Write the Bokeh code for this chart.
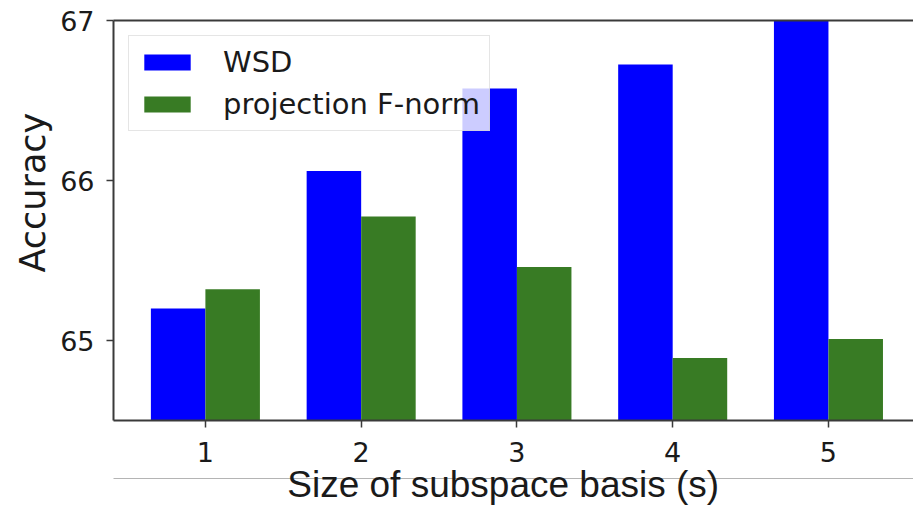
from bokeh.plotting import figure
from bokeh.models import (ColumnDataSource, Range1d, FixedTicker, LinearAxis,
                          Legend, LegendItem, Title)
from bokeh.transform import dodge
from bokeh.embed import file_html
from bokeh.resources import INLINE

# ---- data ----
sizes = [1, 2, 3, 4, 5]
wsd = [65.20, 66.06, 66.575, 66.725, 67.05]
proj_fnorm = [65.32, 65.775, 65.46, 64.89, 65.01]
y_ticks = [65, 66, 67]
series_names = ["WSD", "projection F-norm"]
x_title = "Size of subspace basis (s)"
y_title = "Accuracy"

src = ColumnDataSource(dict(s=sizes, wsd=wsd, proj=proj_fnorm))

p = figure(width=913, height=508, output_backend="svg", toolbar_location=None,
           x_range=Range1d(0.41, 5.546), y_range=Range1d(64.5, 67.0),
           min_border_left=113, min_border_top=20, min_border_right=0,
           min_border_bottom=88)
p.outline_line_color = None
p.grid.visible = False
p.background_fill_color = "white"

BAR_W = 0.35
r1 = p.vbar(x=dodge("s", -BAR_W / 2, range=p.x_range), width=BAR_W, top="wsd", bottom=0,
            source=src, fill_color="#0000ff", line_color=None)
r2 = p.vbar(x=dodge("s", BAR_W / 2, range=p.x_range), width=BAR_W, top="proj", bottom=0,
            source=src, fill_color="#387b24", line_color=None)

AX = "#3a3a3a"
for ax in (p.xaxis[0], p.yaxis[0]):
    ax.axis_line_color = AX
    ax.axis_line_width = 2
    ax.major_tick_line_color = AX
    ax.major_tick_line_width = 1.5
    ax.major_tick_out = 7
    ax.major_tick_in = 0
    ax.minor_tick_line_color = None
    ax.major_label_text_font = "DejaVu Sans"
    ax.major_label_text_font_size = "27px"
    ax.major_label_text_color = "#1a1a1a"

p.xaxis.ticker = FixedTicker(ticks=sizes)
p.yaxis.ticker = FixedTicker(ticks=y_ticks)
p.xaxis.major_label_standoff = 14
p.yaxis.major_label_standoff = 12


def bare_axis(line_color, line_width, tick_out, ticks=()):
    ax = LinearAxis(ticker=FixedTicker(ticks=list(ticks)), major_tick_out=tick_out,
                    major_tick_in=0, minor_tick_out=0, minor_tick_in=0,
                    major_tick_line_color=None, axis_line_color=line_color,
                    axis_line_width=line_width, major_label_text_font_size="0px",
                    major_label_standoff=0)
    if ticks:
        ax.major_label_overrides = {t: "" for t in ticks}
    return ax


# top spine
p.add_layout(bare_axis(AX, 2, 0), "above")

# invisible spacer, then the thin grey rule that crosses the x title in the reference
p.add_layout(bare_axis(None, 1, 14, ticks=[3]), "below")
rule_axis = bare_axis("#b4b4b4", 1, 0)
rule_axis.axis_label = x_title + "\u00a0\u00a0"
rule_axis.axis_label_standoff = -15
rule_axis.axis_label_text_font = "Liberation Sans"
rule_axis.axis_label_text_font_size = "37px"
rule_axis.axis_label_text_font_style = "normal"
rule_axis.axis_label_text_color = "#1a1a1a"
p.add_layout(rule_axis, "below")

# y title, placed a little above the frame centre as in the reference
p.add_layout(Title(text=y_title, align="left", offset=148, standoff=10,
                   text_font="DejaVu Sans", text_font_size="35px",
                   text_font_style="normal", text_color="#1a1a1a"), "left")

legend = Legend(items=[LegendItem(label=series_names[0], renderers=[r1]),
                       LegendItem(label=series_names[1], renderers=[r2])],
                location="top_left", margin=15, padding=9, spacing=8,
                glyph_width=58, glyph_height=20, label_standoff=27,
                label_text_font="DejaVu Sans", label_text_font_size="29px",
                label_text_color="#1a1a1a",
                border_line_color="#cccccc", border_line_width=1.5,
                background_fill_color="white", background_fill_alpha=0.8)
p.add_layout(legend, "center")

open("out.html", "w").write(file_html(p, INLINE))
